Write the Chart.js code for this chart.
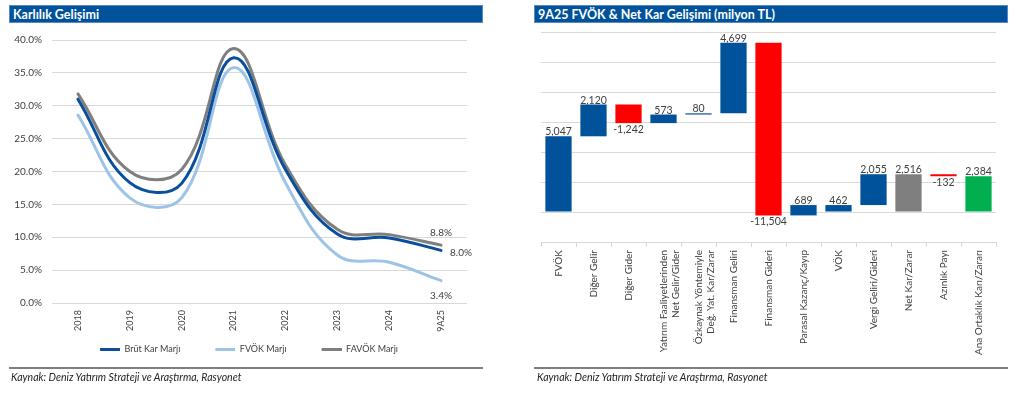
<!DOCTYPE html>
<html><head><meta charset="utf-8">
<script src="https://cdn.jsdelivr.net/npm/chart.js@4.4.1/dist/chart.umd.min.js"></script>
<style>
html,body{margin:0;padding:0;background:#fff;width:1024px;height:394px;overflow:hidden;font-family:Lato,'Open Sans',sans-serif;}
.bar{position:absolute;top:5px;height:18px;background:#00539B;color:#fff;font-weight:bold;font-size:12.5px;line-height:17px;padding-left:3px;box-sizing:border-box;border:1px solid #5a88c4;}
.sep{position:absolute;top:367px;height:2px;background:#7f7f7f;}
.src{position:absolute;top:371px;font-style:italic;font-size:10.5px;color:#222;}
#c1{position:absolute;left:0;top:24px;}
#c2{position:absolute;left:530px;top:24px;}
</style></head><body>
<div class="bar" style="left:9px;width:474px">Karlılık Gelişimi</div>
<div class="bar" style="left:534px;width:474px">9A25 FVÖK &amp; Net Kar Gelişimi (milyon TL)</div>
<canvas id="c1" width="490" height="360"></canvas>
<canvas id="c2" width="480" height="350"></canvas>
<div class="sep" style="left:9px;width:474px"></div>
<div class="sep" style="left:534px;width:474px"></div>
<div class="src" style="left:11px">Kaynak: Deniz Yatırım Strateji ve Araştırma, Rasyonet</div>
<div class="src" style="left:537px">Kaynak: Deniz Yatırım Strateji ve Araştırma, Rasyonet</div>
<script>
// ---------- data: left chart ----------
const years = ['2018','2019','2020','2021','2022','2023','2024','9A25'];
const brutKarMarji = [31.0, 18.3, 18.2, 37.3, 20.3, 10.5, 9.9, 8.0];
const fvokMarji    = [28.6, 16.0, 16.0, 35.8, 18.3, 7.3, 6.2, 3.4];
const favokMarji   = [31.8, 20.0, 20.3, 38.7, 21.0, 11.2, 10.4, 8.8];
const marginTicks  = [0, 5, 10, 15, 20, 25, 30, 35, 40];

// ---------- data: right chart ----------
const steps = ['FVÖK','Diğer Gelir','Diğer Gider',['Yatırım Faaliyetlerinden','Net Gelir/Gider'],['Özkaynak Yöntemiyle','Değ. Yat. Kar/Zarar'],'Finansman Geliri','Finansman Gideri','Parasal Kazanç/Kayıp','VÖK','Vergi Geliri/Gideri','Net Kar/Zarar','Azınlık Payı','Ana Ortaklık Karı/Zararı'];
const stepValues = [5047, 2120, -1242, 573, 80, 4699, -11504, 689, 462, 2055, 2516, -132, 2384];
const totalSteps = ['FVÖK','VÖK','Net Kar/Zarar','Ana Ortaklık Karı/Zararı'];
const waterfallTicks = [-2000, 0, 2000, 4000, 6000, 8000, 10000, 12000];

// ---------- styles ----------
const FONT = 'Lato, "Open Sans", sans-serif';
const TXT = '#404040';
const GRID = '#d9d9d9';
const BLUE = '#00529B', RED = '#FF0000', GRAY = '#7F7F7F', GREEN = '#00B050';
const totalColors = {'FVÖK':BLUE,'VÖK':BLUE,'Net Kar/Zarar':GRAY,'Ana Ortaklık Karı/Zararı':GREEN};
const LINE_COLORS = ['#0A4F9C', '#9DC3E6', '#7F7F7F'];

// legend swatch: transparent lead-in + 20px line
function legendSwatch(color) {
  const c = document.createElement('canvas');
  c.width = 51; c.height = 3;
  const g = c.getContext('2d');
  g.fillStyle = color;
  g.fillRect(31, 0, 20, 3);
  return c;
}

// ---------- left chart ----------
const endLabelOffsets = [[9, 2, 'left'], [0, 15, 'center'], [0, -12, 'center']];
const endLabels = {
  id: 'endLabels',
  afterDatasetsDraw(chart) {
    const ctx = chart.ctx;
    ctx.save();
    ctx.font = '10px ' + FONT;
    ctx.fillStyle = TXT;
    ctx.textBaseline = 'middle';
    chart.data.datasets.forEach((ds, di) => {
      const meta = chart.getDatasetMeta(di);
      const pt = meta.data[meta.data.length - 1];
      const v = ds.data[ds.data.length - 1];
      const [dx, dy, al] = endLabelOffsets[di];
      ctx.textAlign = al;
      ctx.fillText(v.toFixed(1) + '%', pt.x + dx, pt.y + dy);
    });
    ctx.restore();
  }
};

const seriesNames = ['Brüt Kar Marjı', 'FVÖK Marjı', 'FAVÖK Marjı'];
const seriesData = [brutKarMarji, fvokMarji, favokMarji];

new Chart(document.getElementById('c1'), {
  type: 'line',
  data: {
    labels: years,
    datasets: seriesData.map((d, i) => ({
      label: seriesNames[i], data: d,
      borderColor: LINE_COLORS[i], backgroundColor: LINE_COLORS[i],
      pointStyle: legendSwatch(LINE_COLORS[i])
    }))
  },
  options: {
    responsive: false, animation: false,
    layout: {padding: {left: 0, right: 23, top: 12, bottom: 20}},
    elements: {point: {radius: 0}, line: {tension: 0.4, borderWidth: 3, borderCapStyle: 'round'}},
    plugins: {
      tooltip: {enabled: false},
      legend: {
        position: 'bottom',
        labels: {usePointStyle: true, pointStyleWidth: 51, padding: 4, color: TXT, font: {size: 9, family: FONT}}
      }
    },
    scales: {
      x: {
        offset: true,
        grid: {display: false, drawTicks: false}, border: {display: false},
        afterFit(s) { s.height = 38; },
        ticks: {minRotation: 90, maxRotation: 90, autoSkip: false, padding: 7, color: TXT, font: {size: 9, family: FONT}}
      },
      y: {
        min: 0, max: 40,
        afterFit(s) { s.width = 52; },
        afterBuildTicks(s) { s.ticks = marginTicks.map(v => ({value: v})); },
        grid: {color: GRID, drawTicks: false}, border: {display: false},
        ticks: {padding: 10, color: TXT, font: {size: 10, family: FONT}, callback: v => v.toFixed(1) + '%'}
      }
    }
  },
  plugins: [endLabels]
});

// ---------- right chart ----------
const ranges = [];
let running = 0;
steps.forEach((s, i) => {
  const name = Array.isArray(s) ? s.join(' ') : s;
  if (totalSteps.includes(name)) { ranges.push([0, stepValues[i]]); running = stepValues[i]; }
  else { ranges.push([running, running + stepValues[i]]); running += stepValues[i]; }
});
const barColors = steps.map((s, i) => {
  const name = Array.isArray(s) ? s.join(' ') : s;
  if (totalColors[name]) return totalColors[name];
  return stepValues[i] < 0 ? RED : BLUE;
});

const barLabels = {
  id: 'barLabels',
  afterDatasetsDraw(chart) {
    const ctx = chart.ctx, ys = chart.scales.y;
    const meta = chart.getDatasetMeta(0);
    ctx.save();
    ctx.font = '10.5px ' + FONT;
    ctx.fillStyle = TXT;
    ctx.textAlign = 'center';
    meta.data.forEach((el, i) => {
      const [a, b] = ranges[i];
      const v = stepValues[i];
      const txt = v.toLocaleString('en-US');
      if (v >= 0) {
        ctx.textBaseline = 'bottom';
        ctx.fillText(txt, el.x, ys.getPixelForValue(Math.max(a, b)) + 1);
      } else {
        ctx.textBaseline = 'top';
        ctx.fillText(txt, el.x, ys.getPixelForValue(Math.min(a, b)) + 1);
      }
    });
    ctx.restore();
  }
};

new Chart(document.getElementById('c2'), {
  type: 'bar',
  data: {
    labels: steps,
    datasets: [{data: ranges, backgroundColor: barColors, barPercentage: 0.75, categoryPercentage: 1}]
  },
  options: {
    responsive: false, animation: false,
    layout: {padding: {left: 11, right: 14, top: 8, bottom: 12}},
    plugins: {legend: {display: false}, tooltip: {enabled: false}},
    scales: {
      x: {
        grid: {drawOnChartArea: false, drawTicks: true, tickLength: 5, color: GRID},
        border: {display: true, color: GRID, width: 1},
        afterFit(s) { s.height = 120; },
        ticks: {minRotation: 90, maxRotation: 90, autoSkip: false, padding: 3, color: TXT, font: {size: 10, family: FONT}}
      },
      y: {
        min: -2000, max: 12000,
        afterFit(s) { s.width = 0; },
        afterBuildTicks(s) { s.ticks = waterfallTicks.map(v => ({value: v})); },
        grid: {color: GRID, drawTicks: false}, border: {display: false},
        ticks: {display: false}
      }
    }
  },
  plugins: [barLabels]
});
</script>
</body></html>
